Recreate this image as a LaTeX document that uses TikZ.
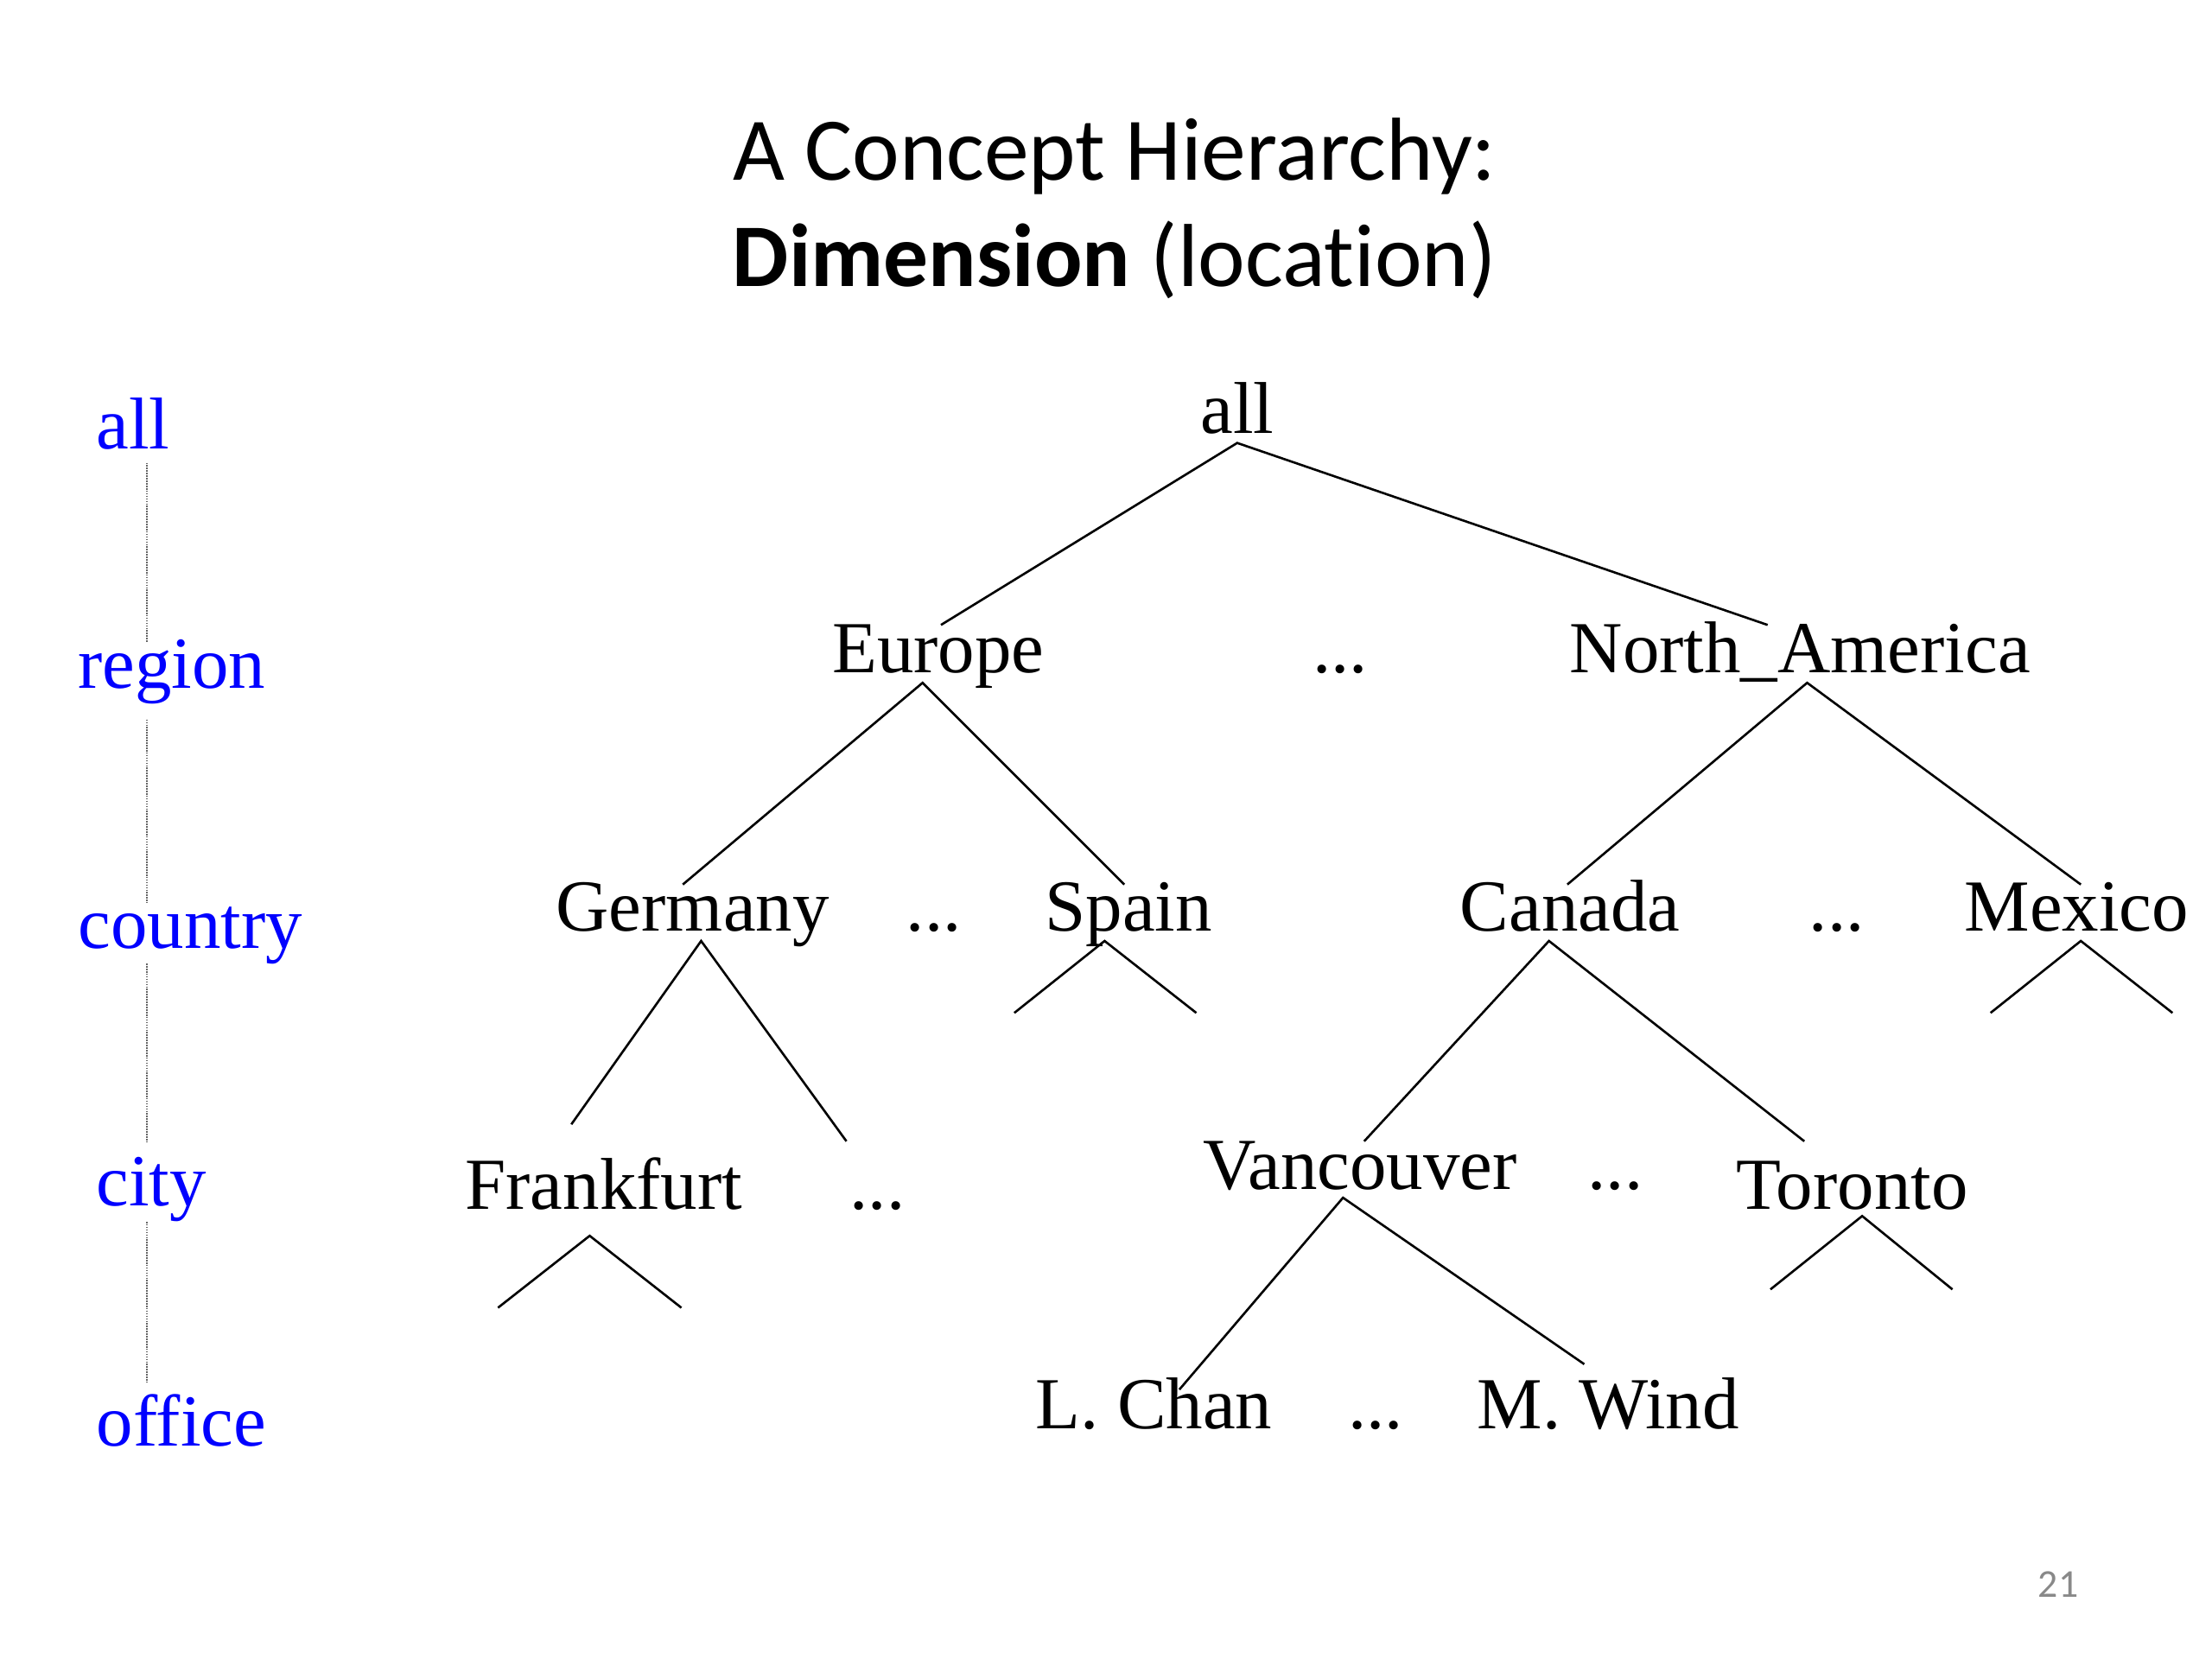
\documentclass[tikz,border=0pt]{standalone}
\usepackage{fontspec}
\setmainfont{Liberation Serif}
\newfontfamily\calibri[Ligatures=NoCommon]{Carlito}
\definecolor{lvlblue}{RGB}{0,0,255}
\definecolor{pggray}{RGB}{137,137,137}
\begin{document}
\begin{tikzpicture}[x=0.5pt,y=-0.5pt,
  lbl/.style={anchor=base,inner sep=0pt,font=\fontsize{26}{26}\selectfont},
  lvl/.style={anchor=base west,inner sep=0pt,font=\fontsize{26}{26}\selectfont,text=lvlblue},
  ttl/.style={anchor=base,inner sep=0pt,font=\calibri\fontsize{31.7}{31.7}\selectfont},
  edge/.style={line width=0.8pt,black},
  lvline/.style={draw=gray!80!black,line width=0.6pt,dash pattern=on 0.5pt off 0.4pt}]
\useasboundingbox (0,0) rectangle (1568,1176);
% title
\node[ttl] (t1) at (790,128) {A Concept Hierarchy:};
\node[ttl] (t2) at (790,203) {\textbf{Dimension} (location)};
% level labels
\node[lvl] (Lall) at (68,318) {all};
\node[lvl] (Lregion) at (55,488) {region};
\node[lvl] (Lcountry) at (55,672) {country};
\node[lvl] (Lcity) at (68,855) {city};
\node[lvl] (Loffice) at (68,1025) {office};
\coordinate (v1a) at (104,328); \coordinate (v1b) at (104,455);
\coordinate (v2a) at (104,510); \coordinate (v2b) at (104,640);
\coordinate (v3a) at (104,683); \coordinate (v3b) at (104,810);
\coordinate (v4a) at (104,866); \coordinate (v4b) at (104,980);
\draw[lvline] (v1a) -- (v1b);
\draw[lvline] (v2a) -- (v2b);
\draw[lvline] (v3a) -- (v3b);
\draw[lvline] (v4a) -- (v4b);
% tree nodes
\node[lbl] (all) at (877,307) {all};
\node[lbl] (europe) at (665,477) {Europe};
\node[lbl] (d1) at (950,477) {...};
\node[lbl] (na) at (1276,477) {North\_America};
\node[lbl] (germany) at (491,660) {Germany};
\node[lbl] (d2) at (662,660) {...};
\node[lbl] (spain) at (800,660) {Spain};
\node[lbl] (canada) at (1113,660) {Canada};
\node[lbl] (d3) at (1302,660) {...};
\node[lbl] (mexico) at (1472,660) {Mexico};
\node[lbl] (frankfurt) at (428,857) {Frankfurt};
\node[lbl] (d4) at (622,857) {...};
\node[lbl] (vancouver) at (964,843) {Vancouver};
\node[lbl] (d5) at (1145,843) {...};
\node[lbl] (toronto) at (1313,857) {Toronto};
\node[lbl] (lchan) at (818,1013) {L. Chan};
\node[lbl] (d6) at (975,1013) {...};
\node[lbl] (mwind) at (1140,1013) {M. Wind};
% connector end points
\coordinate (allB) at (877,314);
\coordinate (euT) at (667,443); \coordinate (naT) at (1253,443);
\coordinate (euB) at (654,484); \coordinate (naB) at (1281,484);
\coordinate (geT) at (484,627); \coordinate (spT) at (797,627);
\coordinate (caT) at (1111,627); \coordinate (meT) at (1475,627);
\coordinate (geB) at (497,667); \coordinate (spB) at (783,667);
\coordinate (caB) at (1098,667); \coordinate (meB) at (1475,667);
\coordinate (frT) at (405,797); \coordinate (geR) at (600,809);
\coordinate (spL) at (719,718); \coordinate (spR) at (848,718);
\coordinate (vaT) at (967,809); \coordinate (toT) at (1279,809);
\coordinate (meL) at (1411,718); \coordinate (meR) at (1540,718);
\coordinate (frB) at (418,876); \coordinate (frL) at (353,927); \coordinate (frR) at (483,927);
\coordinate (vaB) at (952,849); \coordinate (lcT) at (836,985); \coordinate (mwT) at (1123,967);
\coordinate (toB) at (1320,862); \coordinate (toL) at (1255,914); \coordinate (toR) at (1384,914);
% connectors
\draw[edge] (euT) -- (allB) -- (naT);
\draw[edge] (geT) -- (euB) -- (spT);
\draw[edge] (caT) -- (naB) -- (meT);
\draw[edge] (frT) -- (geB) -- (geR);
\draw[edge] (spL) -- (spB) -- (spR);
\draw[edge] (vaT) -- (caB) -- (toT);
\draw[edge] (meL) -- (meB) -- (meR);
\draw[edge] (frL) -- (frB) -- (frR);
\draw[edge] (lcT) -- (vaB) -- (mwT);
\draw[edge] (toL) -- (toB) -- (toR);
% page number
\node[anchor=base,inner sep=0pt,font=\calibri\fontsize{14}{14}\selectfont,text=pggray] (pg) at (1459,1132) {21};
\end{tikzpicture}
\end{document}
